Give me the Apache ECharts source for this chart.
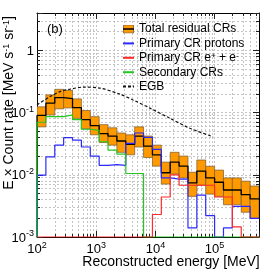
<!DOCTYPE html>
<html><head><meta charset="utf-8">
<script src="https://cdn.jsdelivr.net/npm/echarts@6/dist/echarts.min.js"></script>
<style>html,body{margin:0;padding:0;background:#fff}#c{width:266px;height:273px}</style>
</head><body><div id="c"></div>
<script>
const FONT = '"Liberation Sans", Arial, Helvetica, sans-serif';

// Bin edges in MeV (0.15 decade bins from 100 MeV)
const binEdges = [100, 141.25, 199.53, 281.84, 398.11, 562.34, 794.33, 1122.0, 1584.9, 2238.7,
  3162.3, 4466.8, 6309.6, 8912.5, 12589, 17783, 25119, 35481, 50119, 70795,
  100000, 141254, 199526, 281838, 398107, 562341];

const totalRate = [0.090, 0.142, 0.174, 0.168, 0.120, 0.077, 0.062, 0.046, 0.042, 0.035,
  0.031, 0.042, 0.029, 0.021, 0.0108, 0.016, 0.0138, 0.0074, 0.0115, 0.0089,
  0.0076, 0.0057, 0.0057, 0.0048, 0.0041];
const totalLow = [0.059, 0.092, 0.115, 0.119, 0.081, 0.055, 0.044, 0.033, 0.030, 0.023,
  0.021, 0.028, 0.019, 0.0138, 0.0071, 0.0103, 0.0089, 0.0045, 0.0068, 0.0049,
  0.0045, 0.0033, 0.0033, 0.0025, 0.0020];
const totalHigh = [0.124, 0.193, 0.237, 0.228, 0.166, 0.108, 0.086, 0.064, 0.057, 0.047,
  0.044, 0.059, 0.042, 0.030, 0.016, 0.023, 0.020, 0.011, 0.0173, 0.0137,
  0.0119, 0.0089, 0.0089, 0.0079, 0.0066];
const protonRate = [0.0099, 0.0195, 0.030, 0.0395, 0.036, 0.028, 0.020, 0.0142, 0.0146, 0.0142,
  0.032, 0.047, 0.040, 0.0256, 0.0089, 0.0085, 0.0085, 0.0014, 0.0047, 0.0022,
  0, 0.0014, 0.0031, 0.0031, 0.0020];
const electronRate = [0, 0, 0, 0, 0, 0, 0, 0, 0, 0,
  0, 0, 0, 0.0023, 0.0044, 0.0100, 0.0068, 0.0068, 0.0068, 0.0068,
  0.0044, 0.0044, 0.00145, 0, 0];
const secondaryRate = [0.070, 0.086, 0.086, 0.092, 0.077, 0.054, 0.052, 0.034, 0.025, 0.0215,
  0.0105, 0.0105, 0, 0, 0, 0, 0, 0, 0, 0,
  0, 0, 0, 0, 0];
const egbEnergy = [100, 166, 245, 361, 598, 1159, 2524, 4188, 8110, 17660, 38400, 94000];
const egbRate = [0.133, 0.181, 0.218, 0.238, 0.257, 0.248, 0.198, 0.160, 0.118, 0.081, 0.056, 0.041];

const xRange = [100, 562341.3];
const yRange = [0.001, 4];
const xMinorTicks = [200, 300, 400, 500, 600, 700, 800, 900,
  2000, 3000, 4000, 5000, 6000, 7000, 8000, 9000,
  20000, 30000, 40000, 50000, 60000, 70000, 80000, 90000,
  200000, 300000, 400000, 500000];
const yMinorTicks = [0.002, 0.003, 0.004, 0.005, 0.006, 0.007, 0.008, 0.009,
  0.02, 0.03, 0.04, 0.05, 0.06, 0.07, 0.08, 0.09,
  0.2, 0.3, 0.4, 0.5, 0.6, 0.7, 0.8, 0.9, 2, 3];

const seriesNames = ['Total residual CRs', 'Primary CR protons', 'Primary CR e+ + e-', 'Secondary CRs', 'EGB'];

function stepLine(vals) {
  const floor = yRange[0];
  const pts = [[binEdges[0], floor]];
  vals.forEach((v, i) => {
    const y = Math.max(v, floor);
    pts.push([binEdges[i], y]);
    pts.push([binEdges[i + 1], y]);
  });
  return pts;
}

function powLabel(v) {
  const l = Math.log10(v);
  const e = Math.round(l);
  if (Math.abs(l - e) > 1e-6) return '';
  return e === 0 ? '{b|1}' : '{b|10}{s|' + e + '}';
}
const labelRich = {
  b: { fontSize: 13, fontFamily: FONT, color: '#000', padding: [2, 0, 0, 0] },
  s: { fontSize: 9, fontFamily: FONT, color: '#000', verticalAlign: 'top' }
};
const gridStyle = { color: '#c4c4c4', width: 1, type: [2, 2] };
const tickStyle = { color: '#222', width: 1 };

function ax(extra, range) {
  return Object.assign({
    type: 'log', logBase: 10, min: range[0], max: range[1],
    axisLine: { show: false }, axisTick: { show: false }, axisLabel: { show: false },
    splitLine: { show: false }, minorTick: { show: false }, minorSplitLine: { show: false }
  }, extra);
}

const totIcon = 'image://data:image/svg+xml;charset=utf-8,' + encodeURIComponent(
  "<svg xmlns='http://www.w3.org/2000/svg' width='11' height='9' viewBox='0 0 11 9'>" +
  "<rect x='0.5' y='0.5' width='10' height='8' fill='#ff9900' stroke='#9a7040' stroke-width='1'/>" +
  "<line x1='0' y1='4.5' x2='11' y2='4.5' stroke='#000' stroke-width='1.4'/></svg>");
const noSym = { color: 'rgba(0,0,0,0)', borderColor: 'rgba(0,0,0,0)', borderWidth: 0 };

const chart = echarts.init(document.getElementById('c'), null, { renderer: 'canvas' });
chart.setOption({
  animation: false,
  backgroundColor: '#fff',
  textStyle: { fontFamily: FONT },
  grid: { left: 37, right: 7, top: 13, bottom: 36, containLabel: false, outerBoundsMode: 'none' },
  title: {
    text: '(b)', left: 47, top: 23, padding: 0,
    textStyle: { fontSize: 13, fontWeight: 'normal', color: '#000', fontFamily: FONT }
  },
  legend: {
    orient: 'vertical', left: 122, top: 23, padding: 0,
    itemWidth: 11, itemHeight: 9, itemGap: 2.4, selectedMode: false,
    data: [
      { name: seriesNames[0], icon: totIcon },
      { name: seriesNames[1], itemStyle: noSym },
      { name: seriesNames[2], itemStyle: noSym },
      { name: seriesNames[3], itemStyle: noSym },
      { name: seriesNames[4], itemStyle: noSym }
    ],
    formatter: function (name) {
      if (name === seriesNames[2]) return '{n|Primary CR e}{s|+}{n| + e}{s|-}';
      return '{n|' + name + '}';
    },
    textStyle: {
      fontSize: 12, color: '#000', fontFamily: FONT, lineHeight: 12,
      rich: {
        n: { fontSize: 12, color: '#000', fontFamily: FONT, lineHeight: 12 },
        s: { fontSize: 8, color: '#000', fontFamily: FONT, verticalAlign: 'top', lineHeight: 8 }
      }
    }
  },
  xAxis: [
    ax({
      position: 'bottom', interval: 1,
      axisLine: { show: true, lineStyle: { color: '#000', width: 1 } },
      axisTick: { show: true, inside: true, length: 6, lineStyle: tickStyle },
      axisLabel: { show: true, formatter: powLabel, margin: 4, rich: labelRich },
      splitLine: { show: true, lineStyle: gridStyle },
      name: 'Reconstructed energy [MeV]', nameLocation: 'middle', nameGap: 18, nameMoveOverlap: false,
      nameTextStyle: { fontSize: 14, color: '#000', fontFamily: FONT, padding: [0, 0, 0, 46] }
    }, xRange),
    ax({
      position: 'bottom',
      axisTick: { show: true, inside: true, length: 3, lineStyle: tickStyle, customValues: xMinorTicks },
      splitLine: { show: true, lineStyle: gridStyle }
    }, xRange),
    ax({
      position: 'top', interval: 1,
      axisLine: { show: true, lineStyle: { color: '#000', width: 1 } },
      axisTick: { show: true, inside: true, length: 6, lineStyle: tickStyle }
    }, xRange),
    ax({
      position: 'top',
      axisTick: { show: true, inside: true, length: 3, lineStyle: tickStyle, customValues: xMinorTicks }
    }, xRange)
  ],
  yAxis: [
    ax({
      position: 'left', interval: 1,
      axisLine: { show: true, lineStyle: { color: '#000', width: 1 } },
      axisTick: { show: true, inside: true, length: 6, lineStyle: tickStyle },
      axisLabel: { show: true, formatter: powLabel, margin: 3, rich: labelRich },
      splitLine: { show: true, lineStyle: gridStyle },
      name: 'E \u00d7 Count rate [MeV s{s|-1} sr{s|-1}]', nameLocation: 'middle', nameGap: 21, nameRotate: 90,
      nameMoveOverlap: false,
      nameTextStyle: {
        fontSize: 14, color: '#000', fontFamily: FONT, padding: [0, 0, 0, 44],
        rich: { s: { fontSize: 9, color: '#000', fontFamily: FONT, verticalAlign: 'top' } }
      }
    }, yRange),
    ax({
      position: 'left',
      axisTick: { show: true, inside: true, length: 3, lineStyle: tickStyle, customValues: yMinorTicks },
      splitLine: { show: true, lineStyle: gridStyle }
    }, yRange),
    ax({
      position: 'right', interval: 1,
      axisLine: { show: true, lineStyle: { color: '#000', width: 1 } },
      axisTick: { show: true, inside: true, length: 6, lineStyle: tickStyle }
    }, yRange),
    ax({
      position: 'right',
      axisTick: { show: true, inside: true, length: 3, lineStyle: tickStyle, customValues: yMinorTicks }
    }, yRange)
  ],
  series: [
    {
      type: 'custom', name: seriesNames[0], xAxisIndex: 0, yAxisIndex: 0, z: 2, clip: true,
      itemStyle: { color: '#ff9900' },
      data: totalLow.map((lo, i) => [binEdges[i], binEdges[i + 1], lo, totalHigh[i]]),
      encode: { x: [0, 1], y: [2, 3] },
      renderItem: function (params, api) {
        const p0 = api.coord([api.value(0), api.value(3)]);
        const p1 = api.coord([api.value(1), api.value(2)]);
        return {
          type: 'rect',
          shape: { x: p0[0], y: p0[1], width: p1[0] - p0[0], height: p1[1] - p0[1] },
          style: { fill: '#ff9900', stroke: 'rgba(130,95,50,0.75)', lineWidth: 1 }
        };
      }
    },
    {
      type: 'line', name: seriesNames[0], z: 3, data: stepLine(totalRate), showSymbol: false, symbol: 'none',
      lineStyle: { color: '#000', width: 1.3 }, itemStyle: { color: '#000' }
    },
    {
      type: 'line', name: seriesNames[1], z: 4, data: stepLine(protonRate), showSymbol: false, symbol: 'none',
      lineStyle: { color: '#2a2aff', width: 1.2 }, itemStyle: { color: '#2a2aff' }
    },
    {
      type: 'line', name: seriesNames[3], z: 5, data: stepLine(secondaryRate), showSymbol: false, symbol: 'none',
      lineStyle: { color: '#22c822', width: 1.2 }, itemStyle: { color: '#22c822' }
    },
    {
      type: 'line', name: seriesNames[2], z: 6, data: stepLine(electronRate), showSymbol: false, symbol: 'none',
      lineStyle: { color: '#ff2a2a', width: 1.2 }, itemStyle: { color: '#ff2a2a' }
    },
    {
      type: 'line', name: seriesNames[4], z: 7, data: egbEnergy.map((e, i) => [e, egbRate[i]]),
      showSymbol: false, symbol: 'none', smooth: 0.3,
      lineStyle: { color: '#111', width: 1.2, type: [3, 2] }, itemStyle: { color: '#111' }
    }
  ]
});
</script>
</body></html>
